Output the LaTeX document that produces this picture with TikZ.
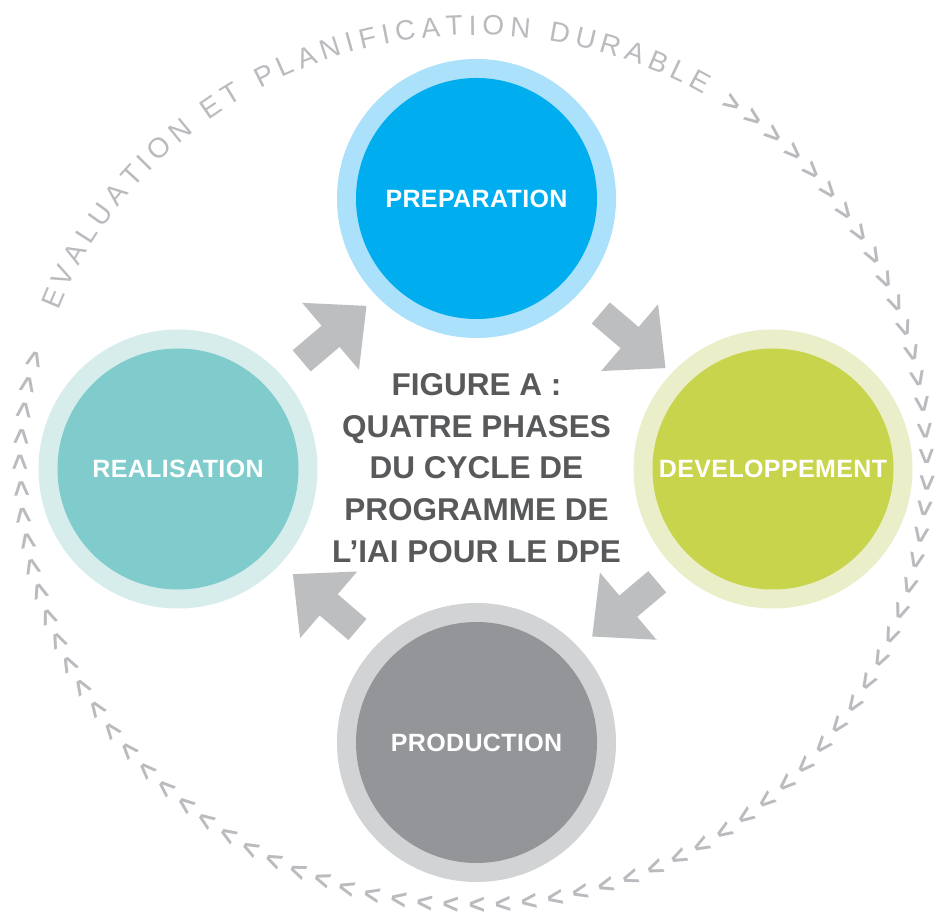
\documentclass[tikz,border=0pt]{standalone}
\usepackage{fontspec}
\setmainfont{Liberation Sans}
\setsansfont{Liberation Sans}
\newfontfamily\labelfont[LetterSpace=1.5]{Liberation Sans}
\newfontfamily\arcfont{Liberation Sans}
\usetikzlibrary{decorations.text,shapes.arrows}
\definecolor{prepIn}{HTML}{00AEEF}
\definecolor{prepOut}{HTML}{ABE1FA}
\definecolor{realIn}{HTML}{80CBCB}
\definecolor{realOut}{HTML}{D6EDEC}
\definecolor{devIn}{HTML}{C8D44B}
\definecolor{devOut}{HTML}{EAEFCA}
\definecolor{prodIn}{HTML}{939598}
\definecolor{prodOut}{HTML}{D1D3D4}
\definecolor{arrowGray}{HTML}{BCBEC0}
\definecolor{arcGray}{HTML}{B9BBBE}
\definecolor{titleGray}{HTML}{58595B}
\tikzset{
  ring/.style={circle, minimum size=279pt, inner sep=0pt, draw=none},
  phase/.style={circle, minimum size=241pt, inner sep=0pt, draw=none, text=white,
    font=\labelfont\bfseries\fontsize{25}{30}\selectfont},
  flowarrow/.style={single arrow, fill=arrowGray, draw=none, anchor=tip,
    minimum height=85pt, inner xsep=0pt, inner ysep=13.7pt,
    single arrow head extend=30pt, single arrow tip angle=86},
  titletext/.style={text=titleGray, align=center,
    font=\bfseries\fontsize{31.5}{41.7}\selectfont}
}
\begin{document}
\begin{tikzpicture}[x=1pt,y=1pt]
\useasboundingbox (0,0) rectangle (936,915);
\fill[white] (0,0) rectangle (936,915);
% outer cycle: text and chevrons
\path[decorate, decoration={text along path, text align={fit to path},
  text={|\arcfont\fontsize{28}{30}\selectfont\color{arcGray}|EVALUATION ET PLANIFICATION DURABLE}}]
  (476.5,450) ++(159:448 and 430) arc[start angle=159, end angle=59.5, x radius=448, y radius=430];
\path[decorate, decoration={text along path, text align={fit to path},
  text={|\arcfont\bfseries\fontsize{28}{30}\selectfont\color{arcGray}|>>>>>>>>>>>>>>>>>>>>>>>>>>>>>>>>>>>>>>>>>>>>>>>>>>>>>>>>>>>>>>>>>>>>>>>>>>>}}]
  (474,450) ++(56.3:444 and 431) arc[start angle=56.3, end angle=-195, x radius=444, y radius=431];
% phases
\node[ring, fill=prepOut] (prepRing) at (476.5,716.5) {};
\node[phase, fill=prepIn] (prep) at (prepRing.center) {PREPARATION};
\node[ring, fill=realOut] (realRing) at (178,446) {};
\node[phase, fill=realIn] (real) at (realRing.center) {REALISATION};
\node[ring, fill=devOut] (devRing) at (773,446) {};
\node[phase, fill=devIn] (dev) at (devRing.center) {DEVELOPPEMENT};
\node[ring, fill=prodOut] (prodRing) at (476.5,172.5) {};
\node[phase, fill=prodIn] (prod) at (prodRing.center) {PRODUCTION};
% arrows
\node[flowarrow, rotate=40.3] (a1) at (366.7,609.3) {};
\node[flowarrow, rotate=-40.4] (a2) at (665.7,546.7) {};
\node[flowarrow, rotate=-139.9] (a3) at (592,278.3) {};
\node[flowarrow, rotate=139.4] (a4) at (292.7,341) {};
% title
\node[titletext] (title) at (476.5,447) {FIGURE A :\\QUATRE PHASES\\DU CYCLE DE\\PROGRAMME DE\\L’IAI POUR LE DPE};
\end{tikzpicture}
\end{document}
